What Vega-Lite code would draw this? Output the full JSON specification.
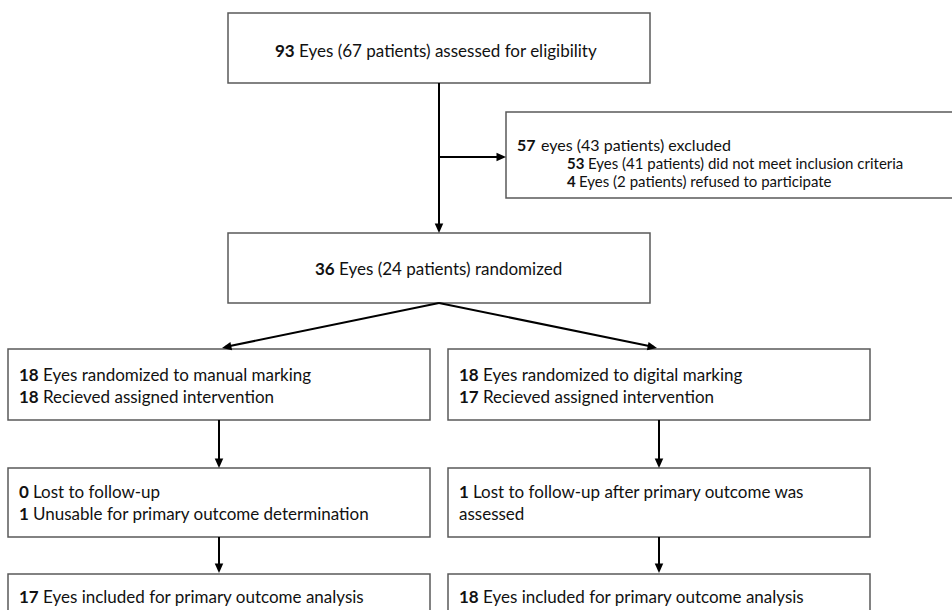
{
  "$schema": "https://vega.github.io/schema/vega-lite/v6.json",
  "width": 952,
  "height": 610,
  "autosize": {"type": "fit", "contains": "padding"},
  "padding": 0,
  "background": "white",
  "config": {"view": {"stroke": null}},
  "datasets": {
    "boxes": [
      {"box": "assessed", "x1": 228, "x2": 650, "y1": 13, "y2": 83},
      {"box": "excluded", "x1": 506, "x2": 970, "y1": 112, "y2": 198},
      {"box": "randomized", "x1": 228, "x2": 650, "y1": 233, "y2": 303},
      {"box": "manual", "x1": 8, "x2": 430, "y1": 349, "y2": 420},
      {"box": "digital", "x1": 448, "x2": 870, "y1": 349, "y2": 420},
      {"box": "manual follow-up", "x1": 8, "x2": 430, "y1": 468, "y2": 537},
      {"box": "digital follow-up", "x1": 448, "x2": 870, "y1": 468, "y2": 537},
      {"box": "manual analysis", "x1": 8, "x2": 430, "y1": 574, "y2": 650},
      {"box": "digital analysis", "x1": 448, "x2": 870, "y1": 574, "y2": 650}
    ],
    "arrows": [
      {"x1": 439, "y1": 83, "x2": 439, "y2": 230, "hx": 439, "hy": 233, "ang": 180},
      {"x1": 439, "y1": 157, "x2": 503, "y2": 157, "hx": 506, "hy": 157, "ang": 90},
      {"x1": 439, "y1": 303, "x2": 225, "y2": 347, "hx": 222, "hy": 348, "ang": 258.3},
      {"x1": 439, "y1": 303, "x2": 654, "y2": 347, "hx": 657, "hy": 348, "ang": 101.7},
      {"x1": 219, "y1": 420, "x2": 219, "y2": 465, "hx": 219, "hy": 468, "ang": 180},
      {"x1": 219, "y1": 537, "x2": 219, "y2": 570, "hx": 219, "hy": 573, "ang": 180},
      {"x1": 659, "y1": 420, "x2": 659, "y2": 465, "hx": 659, "hy": 468, "ang": 180},
      {"x1": 659, "y1": 537, "x2": 659, "y2": 570, "hx": 659, "hy": 573, "ang": 180}
    ],
    "texts": [
      {"part": "num", "role": "main", "x": 275, "y": 57, "t": "93"},
      {"part": "txt", "role": "main", "x": 299, "y": 57, "t": "Eyes (67 patients)  assessed for eligibility"},
      {"part": "num", "role": "head", "x": 517, "y": 151, "t": "57"},
      {"part": "txt", "role": "head", "x": 541, "y": 151, "t": "eyes (43 patients) excluded"},
      {"part": "num", "role": "sub", "x": 567, "y": 169, "t": "53"},
      {"part": "txt", "role": "sub", "x": 588, "y": 169, "t": "Eyes (41 patients) did not meet inclusion criteria"},
      {"part": "num", "role": "sub", "x": 567, "y": 187, "t": "4"},
      {"part": "txt", "role": "sub", "x": 579, "y": 187, "t": "Eyes (2 patients) refused to participate"},
      {"part": "num", "role": "main", "x": 315, "y": 275, "t": "36"},
      {"part": "txt", "role": "main", "x": 339, "y": 275, "t": "Eyes (24 patients) randomized"},
      {"part": "num", "role": "main", "x": 19, "y": 381, "t": "18"},
      {"part": "txt", "role": "main", "x": 43, "y": 381, "t": "Eyes randomized to manual marking"},
      {"part": "num", "role": "main", "x": 19, "y": 403, "t": "18"},
      {"part": "txt", "role": "main", "x": 43, "y": 403, "t": "Recieved assigned intervention"},
      {"part": "num", "role": "main", "x": 459, "y": 381, "t": "18"},
      {"part": "txt", "role": "main", "x": 483, "y": 381, "t": "Eyes randomized to digital marking"},
      {"part": "num", "role": "main", "x": 459, "y": 403, "t": "17"},
      {"part": "txt", "role": "main", "x": 483, "y": 403, "t": "Recieved assigned intervention"},
      {"part": "num", "role": "main", "x": 19, "y": 498, "t": "0"},
      {"part": "txt", "role": "main", "x": 33, "y": 498, "t": "Lost to follow-up"},
      {"part": "num", "role": "main", "x": 19, "y": 520, "t": "1"},
      {"part": "txt", "role": "main", "x": 33, "y": 520, "t": "Unusable for primary outcome determination"},
      {"part": "num", "role": "main", "x": 459, "y": 498, "t": "1"},
      {"part": "txt", "role": "main", "x": 473, "y": 498, "t": "Lost to follow-up after primary outcome was"},
      {"part": "txt", "role": "main", "x": 459, "y": 520, "t": "assessed"},
      {"part": "num", "role": "main", "x": 19, "y": 603, "t": "17"},
      {"part": "txt", "role": "main", "x": 43, "y": 603, "t": "Eyes included for primary outcome analysis"},
      {"part": "num", "role": "main", "x": 459, "y": 603, "t": "18"},
      {"part": "txt", "role": "main", "x": 483, "y": 603, "t": "Eyes included for primary outcome analysis"}
    ]
  },
  "layer": [
    {
      "data": {"name": "boxes"},
      "mark": {"type": "rect", "fill": "white", "stroke": "#5a5a5a", "strokeWidth": 1.5, "clip": true},
      "encoding": {
        "x": {"field": "x1", "type": "quantitative", "scale": {"domain": [0, 952], "nice": false, "zero": false}, "axis": null},
        "x2": {"field": "x2"},
        "y": {"field": "y1", "type": "quantitative", "scale": {"domain": [0, 610], "nice": false, "zero": false, "reverse": true}, "axis": null},
        "y2": {"field": "y2"}
      }
    },
    {
      "data": {"name": "arrows"},
      "mark": {"type": "rule", "color": "black", "strokeWidth": 2},
      "encoding": {
        "x": {"field": "x1", "type": "quantitative"},
        "x2": {"field": "x2"},
        "y": {"field": "y1", "type": "quantitative"},
        "y2": {"field": "y2"}
      }
    },
    {
      "data": {"name": "arrows"},
      "mark": {"type": "point", "shape": "M0,0 L-0.9,2 L0.9,2 Z", "filled": true, "color": "black", "opacity": 1, "size": 90, "strokeWidth": 0},
      "encoding": {
        "x": {"field": "hx", "type": "quantitative"},
        "y": {"field": "hy", "type": "quantitative"},
        "angle": {"field": "ang", "type": "quantitative", "scale": null}
      }
    },
    {
      "data": {"name": "texts"},
      "transform": [{"filter": "datum.part == 'num'"}],
      "mark": {"type": "text", "font": "Lato", "fontWeight": "bold", "align": "left", "baseline": "alphabetic", "color": "#111111"},
      "encoding": {
        "x": {"field": "x", "type": "quantitative"},
        "y": {"field": "y", "type": "quantitative"},
        "text": {"field": "t"},
        "size": {"field": "role", "type": "nominal", "scale": {"domain": ["main", "head", "sub"], "range": [17, 15, 12]}, "legend": null}
      }
    },
    {
      "data": {"name": "texts"},
      "transform": [{"filter": "datum.part == 'txt'"}],
      "mark": {"type": "text", "font": "Lato", "align": "left", "baseline": "alphabetic", "color": "#111111"},
      "encoding": {
        "x": {"field": "x", "type": "quantitative"},
        "y": {"field": "y", "type": "quantitative"},
        "text": {"field": "t"},
        "size": {"field": "role", "type": "nominal", "scale": {"domain": ["main", "head", "sub"], "range": [17, 15, 12]}, "legend": null}
      }
    }
  ]
}
